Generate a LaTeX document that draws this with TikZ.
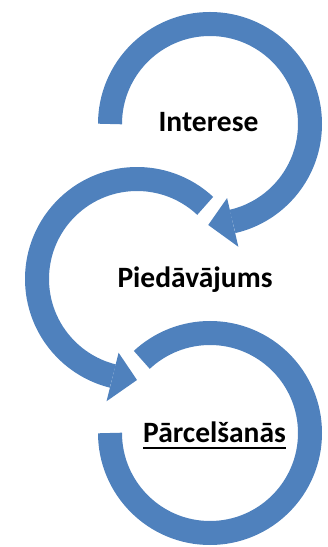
\documentclass[tikz,border=0pt]{standalone}
\usepackage{fontspec}
\setmainfont{Carlito}
\usepackage{tikz}
\usetikzlibrary{calc}
\definecolor{ringblue}{RGB}{79, 129, 189}
\newcommand\thickul[1]{\setbox0\hbox{#1}\rlap{\rule[-6pt]{\wd0}{2.2pt}}\box0}

\begin{document}
\begin{tikzpicture}[x=1pt, y=1pt,
		ring/.style={draw=ringblue, line width=24pt, line cap=butt},
		tip/.style={fill=ringblue},
		lbl/.style={anchor=base, inner sep=0pt, font=\fontsize{29.5}{32}\selectfont\bfseries}
		]
		\useasboundingbox (0,0) rectangle (328,547);
		\coordinate (c1) at (210,423);
		\coordinate (c2) at (137,268);
		\coordinate (c3) at (210,114);
		% rings
		\draw[ring] ($(c1)+(180:100)$) arc[start angle=180, end angle=-77, radius=100];
		\fill[tip] ($(c1)+(-77:76)$) -- ($(c1)+(-77:126)$) -- ($(c1)+(-91:101)$) -- cycle;
		\draw[ring] ($(c2)+(47:100)$) arc[start angle=47, end angle=256, radius=100];
		\fill[tip] ($(c2)+(256:76)$) -- ($(c2)+(256:126)$) -- ($(c2)+(270:101)$) -- cycle;
		\draw[ring] ($(c3)+(180:100)$) arc[start angle=180, end angle=493, radius=100];
		% labels
		\node[lbl] (interese) at (208.5,415) {Interese};
		\node[lbl] (piedavajums) at (195,259) {Piedāvājums};
		\node[lbl] (parcelsanas) at (214.5,104) {\thickul{Pārcelšanās}};
	\end{tikzpicture}
\end{document}
